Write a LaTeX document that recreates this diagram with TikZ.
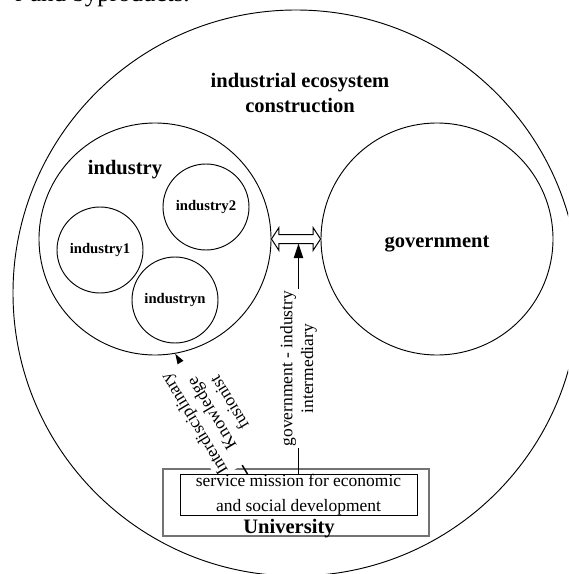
\documentclass[tikz,border=0pt]{standalone}
\usepackage{fontspec}
\setmainfont{Liberation Serif}
\usetikzlibrary{arrows.meta,calc}
\pgfdeclarelayer{front}
\pgfsetlayers{main,front}
\begin{document}
\begin{tikzpicture}[x=0.75pt,y=-0.75pt,
  ring/.style={circle,draw,line width=0.7pt,inner sep=0pt},
  heading/.style={font=\fontsize{15.4}{18.75}\selectfont\bfseries,inner sep=0pt},
  subind/.style={ring,minimum size=64.5pt,font=\fontsize{11}{13}\selectfont\bfseries},
  plain/.style={font=\fontsize{13.1}{15.5}\selectfont,align=center},
  flow/.style={line width=1.1pt,-{Triangle[length=11pt,width=7pt]}},
  textbox/.style={plain,fill=white,inner sep=1.5pt}]
\useasboundingbox (0,0) rectangle (568,574);
\clip (0,0) rectangle (568,574);

% tail of the preceding sentence
\node[font=\fontsize{18.75}{22}\selectfont,anchor=base east,inner sep=0pt] (carry) at (190,2) {r and byproducts.};

% ecosystem
\node[ring,minimum size=424.5pt] (eco) at (296,293) {};
\node[heading,align=center] (ecotitle) at (300,93) {industrial ecosystem\\construction};

% industry cluster
\node[ring,minimum size=174pt] (ind) at (155,239) {};
\node[heading,anchor=base] (indlabel) at (125,175) {industry};
\node[subind] (ind1) at (100,250) {industry1};
\node[subind] (ind2) at (206,207) {industry2};
\node[subind] (indn) at (175,300) {industryn};

% government
\node[ring,minimum size=174pt] (gov) at (437,239) {};
\node[heading,anchor=base] (govlabel) at (437,247) {government};

% two-way hollow link between industry and government
\draw[line width=0.75pt,fill=white] (ind.east) -- ++(7.5,-11.5) -- ++(0,7)
  -- ($(gov.west)+(-7.5,-4.5)$) -- ++(0,-7) -- (gov.west) -- ++(-7.5,11.5)
  -- ++(0,-7) -- ($(ind.east)+(7.5,4.5)$) -- ++(0,7) -- cycle;
\coordinate (gi-tip) at ($(ind.east)!0.5!(gov.west)+(0,4.5)$);

% university
\node[draw=black!55,line width=0.9pt,minimum width=199.5pt,minimum height=50.25pt,inner sep=0pt] (univ) at (296,502.5) {};
\node[heading,anchor=base] (unilabel) at (289,533) {University};
\begin{pgfonlayer}{front}
\node[draw,fill=white,line width=0.75pt,minimum width=177.75pt,minimum height=30pt,inner sep=0pt,
      font=\fontsize{13.1}{18.75}\selectfont,align=center] (svc) at (298.5,495)
      {service mission for economic\\and social development};
\end{pgfonlayer}

% connectors from the university
\draw[flow] (svc.north) -- node[textbox,rotate=90,pos=0.457] (gilabel)
  {government - industry\\intermediary} (svc.north |- gi-tip);
\draw[flow] ($(svc.north west)+(68,0)$) -- node[textbox,rotate=121,pos=0.5] (fusion)
  {Interdisciplinary\\Knowledge\\fusionist} (ind.-80);
\end{tikzpicture}
\end{document}
